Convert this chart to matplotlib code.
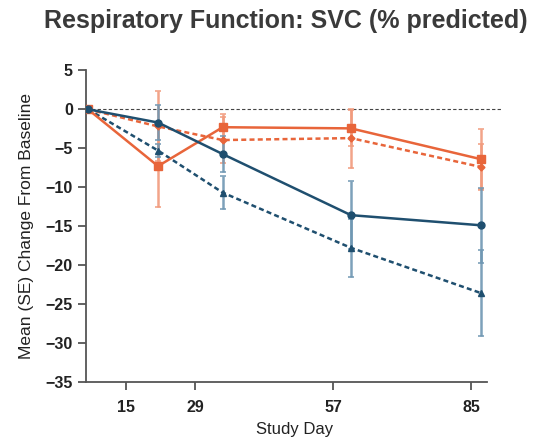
import matplotlib.pyplot as plt

plt.rcParams['font.family'] = ['Liberation Sans', 'DejaVu Sans']

# x positions (study day scale)
days = [7.3, 21.5, 34.6, 60.6, 86.9]
tick_days = [15, 29, 57, 85]

# mean change from baseline and SE for each series
orange_solid = [0, -7.3, -2.3, -2.45, -6.4]
orange_solid_se = [0, 5.2, 1.7, 2.3, 3.9]
orange_dot = [0, -2.2, -3.95, -3.7, -7.4]
orange_dot_se = [0, 4.5, 3.0, 3.8, 3.0]
blue_solid = [0, -1.7, -5.75, -13.6, -14.9]
blue_solid_se = [0, 2.25, 2.3, 4.4, 4.8]
blue_dot = [0, -5.3, -10.7, -17.8, -23.6]
blue_dot_se = [0, 0.8, 2.1, 3.7, 5.5]

orange = "#e8653a"
blue = "#1f4f6f"
orange_light = "#f19a7c"
blue_light = "#6f97b3"

fig = plt.figure(figsize=(5.39, 4.40), dpi=100)
ax = fig.add_axes([0.1596, 0.1325, 0.7734, 0.7075])

# zero reference line
ax.axhline(0, color="#444444", lw=0.8, ls=(0, (3, 2)), zorder=1)

# error bars (lighter, behind lines)
for y, se, c in [(orange_solid, orange_solid_se, orange_light),
                 (orange_dot, orange_dot_se, orange_light),
                 (blue_solid, blue_solid_se, blue_light),
                 (blue_dot, blue_dot_se, blue_light)]:
    ax.errorbar(days[1:], y[1:], yerr=se[1:], fmt="none", ecolor=c,
                elinewidth=1.8, capsize=2.5, capthick=1.2, alpha=0.9, zorder=2)

ax.plot(days, orange_dot, color=orange, lw=1.8, ls=(0, (2, 1.3)),
        marker="D", ms=3.5, zorder=3)
ax.plot(days, blue_dot, color=blue, lw=1.8, ls=(0, (2, 1.3)),
        marker="^", ms=4, zorder=3)
ax.plot(days, orange_solid, color=orange, lw=1.8, marker="s", ms=6, zorder=4)
ax.plot(days, blue_solid, color=blue, lw=1.8, marker="o", ms=5, zorder=4)

ax.set_xlim(6.9, 91.4)
ax.set_ylim(-35, 5)
ax.set_yticks(range(5, -36, -5))
ax.set_yticklabels([str(v).replace("-", "\u2212") for v in range(5, -36, -5)])
ax.set_xticks(tick_days)

for s in ["top", "right"]:
    ax.spines[s].set_visible(False)
for s in ["left", "bottom"]:
    ax.spines[s].set_color("#555555")
    ax.spines[s].set_linewidth(1.3)
ax.spines["bottom"].set_bounds(6.9, 88.1)

ax.tick_params(axis="both", direction="out", length=6, width=1.3,
               color="#555555", labelsize=11.5, labelcolor="#222222")
ax.tick_params(axis="x", pad=7)
for lab in ax.get_xticklabels() + ax.get_yticklabels():
    lab.set_fontweight("bold")

ax.set_xlabel("Study Day", fontsize=12, color="#222222", labelpad=5)
ax.set_ylabel("Mean (SE) Change From Baseline", fontsize=12.5,
              color="#222222", labelpad=8)

fig.text(0.531, 0.953, "Respiratory Function: SVC (% predicted)",
         ha="center", va="center", fontsize=18, fontweight="bold",
         color="#3a3a3a")

fig.savefig("out.png", dpi=100)
